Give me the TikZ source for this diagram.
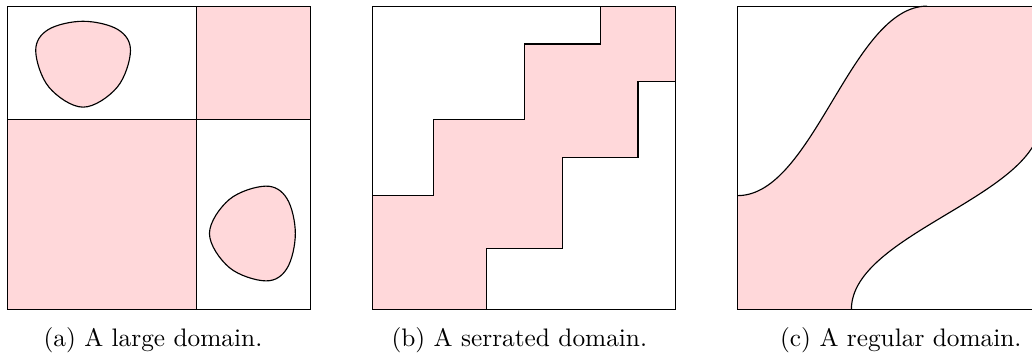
\documentclass[tikz,border=0pt]{standalone}
\definecolor{dom}{RGB}{255,216,218}
\tikzset{
  bord/.style={draw=black, line width=0.45pt, line join=miter},
  captext/.style={inner sep=0pt, font=\normalsize},
  panel/.style={scale=75.8}
}
\begin{document}
\begin{tikzpicture}[x=0.395pt,y=0.395pt]
\useasboundingbox (0,0) rectangle (1032,-356);
\clip (0,0) rectangle (1032,-356);

% ---------- (a) large domain ----------
\begin{scope}[shift={(7.3,-309.3)}, panel]
  \fill[dom] (0,0) rectangle (2.5,2.5);
  \fill[dom] (2.5,2.5) rectangle (4,4);
  \draw[bord, fill=dom] plot[smooth cycle, tension=0.6] coordinates
    {(1.0,3.80) (1.46,3.69) (1.625,3.41) (1.45,2.93) (1.0,2.667) (0.55,2.93) (0.375,3.41) (0.54,3.69)};
  \draw[bord, fill=dom] plot[smooth cycle, tension=0.6] coordinates
    {(3.80,1.0) (3.69,1.46) (3.41,1.625) (2.93,1.45) (2.667,1.0) (2.93,0.55) (3.41,0.375) (3.69,0.54)};
  \draw[bord] (0,0) rectangle (4,4);
  \draw[bord] (2.5,0) -- (2.5,4);
  \draw[bord] (0,2.5) -- (4,2.5);
\end{scope}

% ---------- (b) serrated domain ----------
\begin{scope}[shift={(372.7,-309.3)}, panel]
  \fill[dom] (0,0) -- (1.5,0) -- (1.5,0.8) -- (2.5,0.8) -- (2.5,2) -- (3.5,2) -- (3.5,3) -- (4,3)
    -- (4,4) -- (3,4) -- (3,3.5) -- (2,3.5) -- (2,2.5) -- (0.8,2.5) -- (0.8,1.5) -- (0,1.5) -- cycle;
  \draw[bord] (1.5,0) -- (1.5,0.8) -- (2.5,0.8) -- (2.5,2) -- (3.5,2) -- (3.5,3) -- (4,3);
  \draw[bord] (0,1.5) -- (0.8,1.5) -- (0.8,2.5) -- (2,2.5) -- (2,3.5) -- (3,3.5) -- (3,4);
  \draw[bord] (0,0) rectangle (4,4);
\end{scope}

% ---------- (c) regular domain ----------
\begin{scope}[shift={(737.7,-309.3)}, panel]
  \fill[dom] (0,0) -- (1.5,0) .. controls (1.5,1) and (4,1.5) .. (4,2.5)
    -- (4,4) -- (2.5,4) .. controls (1.5,4) and (1,1.5) .. (0,1.5) -- cycle;
  \draw[bord] (1.5,0) .. controls (1.5,1) and (4,1.5) .. (4,2.5);
  \draw[bord] (0,1.5) .. controls (1,1.5) and (1.5,4) .. (2.5,4);
  \draw[bord] (0,0) rectangle (4,4);
\end{scope}

% ---------- captions ----------
\node[captext, anchor=base west] (capa) at (43,-346.5) {(a) A large domain.};
\node[captext, anchor=base west] (capb) at (391,-346.5) {(b) A serrated domain.};
\node[captext, anchor=base east] (capc) at (1022,-346.5) {(c) A regular domain.};
\end{tikzpicture}
\end{document}
